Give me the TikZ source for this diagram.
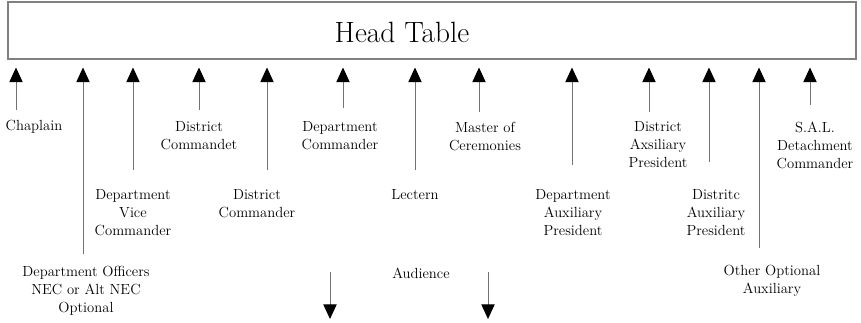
\documentclass[tikz,border=0pt]{standalone}
\usetikzlibrary{arrows.meta}

\begin{document}
\begin{tikzpicture}[
  x=0.75pt,y=-0.75pt,
  tablebox/.style={draw=black!50,line width=0.8pt,minimum width=636pt,minimum height=42.75pt,inner sep=0pt},
  title/.style={font=\fontsize{22}{26}\selectfont,inner sep=0pt},
  role/.style={align=center,font=\fontsize{11}{13.5}\selectfont,inner sep=0pt},
  up/.style={draw=black!55,line width=0.75pt,-{Triangle[length=11pt,width=10pt,color=black]},shorten >=6pt},
  down/.style={draw=black!55,line width=0.75pt,-{Triangle[length=11pt,width=10pt,color=black]}}
]
\useasboundingbox (0,0) rectangle (861,323);
\node[tablebox] (tbl) at (432,30.5) {};
\node[title] (ttl) at (402,32) {Head Table};
% people facing the head table
\node[role] (chap) at (34,127) {Chaplain};
\node[role] (deptoff) at (86,291) {Department Officers\\NEC or Alt NEC\\Optional};
\node[role] (dvc) at (133,213) {Department\\Vice\\Commander};
\node[role] (distcmdt) at (199,136) {District\\Commandet};
\node[role] (distcmd) at (257,204) {District\\Commander};
\node[role] (deptcmd) at (340,136) {Department\\Commander};
\node[role] (lect) at (415,195) {Lectern};
\node[role] (moc) at (485,136) {Master of\\Ceremonies};
\node[role] (dap) at (573,213) {Department\\Auxiliary\\President};
\node[role] (distaxp) at (658,145) {District\\Axsiliary\\President};
\node[role] (distap) at (716,213) {Distritc\\Auxiliary\\President};
\node[role] (otheraux) at (772,281) {Other Optional\\Auxiliary};
\node[role] (sal) at (815,145) {S.A.L.\\Detachment\\Commander};
\node[role] (aud) at (421,273) {Audience};
% arrow tails
\coordinate (c-chap) at (16,110);
\coordinate (c-deptoff) at (83,254);
\coordinate (c-dvc) at (133,170);
\coordinate (c-distcmdt) at (199,110);
\coordinate (c-distcmd) at (267,170);
\coordinate (c-deptcmd) at (343,108);
\coordinate (c-lect) at (415,170);
\coordinate (c-moc) at (479,112);
\coordinate (c-dap) at (572,165);
\coordinate (c-distaxp) at (649,112);
\coordinate (c-distap) at (709,162);
\coordinate (c-otheraux) at (759,248);
\coordinate (c-sal) at (810,105);
\draw[up] (c-chap) -- (c-chap |- tbl.south);
\draw[up] (c-deptoff) -- (c-deptoff |- tbl.south);
\draw[up] (c-dvc) -- (c-dvc |- tbl.south);
\draw[up] (c-distcmdt) -- (c-distcmdt |- tbl.south);
\draw[up] (c-distcmd) -- (c-distcmd |- tbl.south);
\draw[up] (c-deptcmd) -- (c-deptcmd |- tbl.south);
\draw[up] (c-lect) -- (c-lect |- tbl.south);
\draw[up] (c-moc) -- (c-moc |- tbl.south);
\draw[up] (c-dap) -- (c-dap |- tbl.south);
\draw[up] (c-distaxp) -- (c-distaxp |- tbl.south);
\draw[up] (c-distap) -- (c-distap |- tbl.south);
\draw[up] (c-otheraux) -- (c-otheraux |- tbl.south);
\draw[up] (c-sal) -- (c-sal |- tbl.south);
% audience side
\coordinate (aud-l1) at (330,272);
\coordinate (aud-l2) at (330,319);
\coordinate (aud-r1) at (488,272);
\coordinate (aud-r2) at (488,319);
\draw[down] (aud-l1) -- (aud-l2);
\draw[down] (aud-r1) -- (aud-r2);
\end{tikzpicture}
\end{document}
